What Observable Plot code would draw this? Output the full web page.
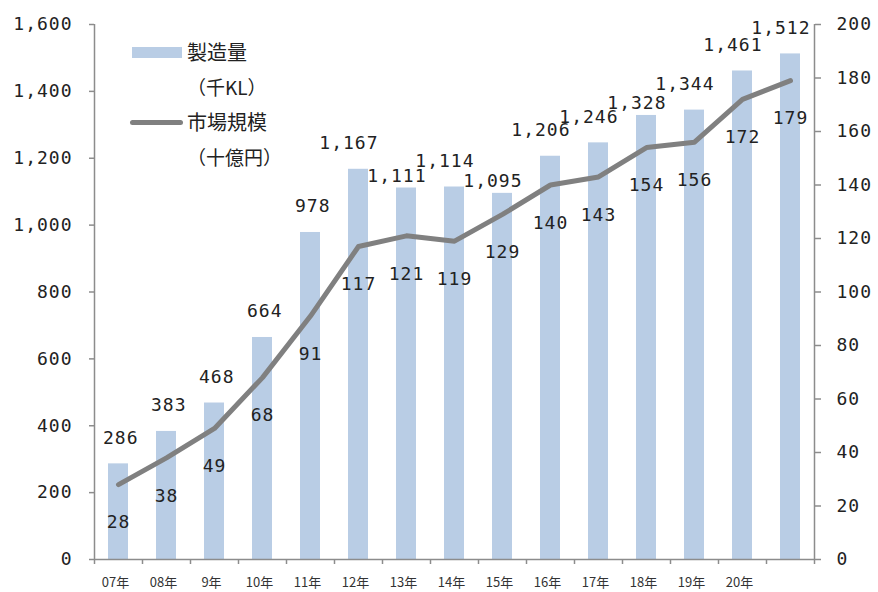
<!DOCTYPE html>
<html><head><meta charset="utf-8">
<script src="https://cdn.jsdelivr.net/npm/d3@7"></script>
<script src="https://cdn.jsdelivr.net/npm/@observablehq/plot@0.6"></script>
<style>
html,body{margin:0;padding:0;background:#fff;}
#wrap{position:relative;width:878px;height:592px;}
.num text, text.num{letter-spacing:1px;}
.lg{position:absolute;font-family:"Noto Sans CJK JP";font-size:20px;color:#222;line-height:1;white-space:nowrap;}
.sw{position:absolute;}
</style>
</head><body>
<div id="wrap"></div>
<script>
const categories = ["07年","08年","9年","10年","11年","12年","13年","14年","15年","16年","17年","18年","19年","20年",""];
const production = [286,383,468,664,978,1167,1111,1114,1095,1206,1246,1328,1344,1461,1512];
const market = [28,38,49,68,91,117,121,119,129,140,143,154,156,172,179];
const leftTicks = [0,200,400,600,800,1000,1200,1400,1600];
const rightTicks = [0,20,40,60,80,100,120,140,160,180,200];
const seriesNames = ["製造量","（千KL）","市場規模","（十億円）"];

const ratio = 1600 / 200;
const data = categories.map((c, i) => ({c, i, production: production[i], market: market[i]}));
// labels that would collide with a slightly taller neighbour's label sit closer to their bar
data.forEach((d, i) => {
  const nb = [data[i - 1], data[i + 1]].filter(Boolean);
  d.crowded = nb.some(n => n.production > d.production && n.production - d.production < 30);
});
const fmt = d3.format(",");
const numFont = "DejaVu Sans Mono";
const barLabel = {x: d => d.i + 0.5, y: "production", text: d => fmt(d.production), dx: 20, textAnchor: "end", fontSize: 18, fill: "#222", fontFamily: numFont, className: "num"};

const chart = Plot.plot({
  width: 878, height: 592,
  marginTop: 24, marginBottom: 33, marginLeft: 94, marginRight: 64,
  x: {domain: [0, categories.length], axis: null},
  y: {domain: [0, 1600], axis: null},
  style: {background: "#fff", fontFamily: numFont, color: "#222"},
  marks: [
    Plot.rectY(data, {x1: d => d.i, x2: d => d.i + 1, y: "production", fill: "#b9cde5", insetLeft: 14, insetRight: 14}),
    Plot.line(data, {x: d => d.i + 0.5, y: d => d.market * ratio, stroke: "#808080", strokeWidth: 5, strokeLinejoin: "round", strokeLinecap: "round"}),
    Plot.text(data.filter(d => !d.crowded), {...barLabel, dy: -26}),
    Plot.text(data.filter(d => d.crowded), {...barLabel, dy: -12}),
    Plot.text(data, {x: d => d.i + 0.5, y: d => d.market * ratio, text: d => String(d.market), dy: 38, fontSize: 18, fill: "#222", fontFamily: numFont, className: "num"}),
    Plot.ruleY([0], {stroke: "#8c8c8c", strokeWidth: 1.5}),
    Plot.ruleX([0, categories.length], {stroke: "#8c8c8c", strokeWidth: 1.5}),
    Plot.axisY(leftTicks, {anchor: "left", label: null, tickSize: 5, tickPadding: 17, tickFormat: fmt, fontSize: 18, fill: "#222", stroke: "#8c8c8c", strokeWidth: 1.5, fontFamily: numFont, className: "num"}),
    Plot.axisY(rightTicks.map(v => v * ratio), {anchor: "right", label: null, tickSize: 6, tickPadding: 16, tickFormat: v => String(v / ratio), fontSize: 18, fill: "#222", stroke: "#8c8c8c", strokeWidth: 1.5, fontFamily: numFont, className: "num"}),
    Plot.axisX(d3.range(categories.length + 1), {label: null, tickSize: 5, tickFormat: () => "", stroke: "#8c8c8c", strokeWidth: 1.5}),
    Plot.text(data, {x: d => d.i + 0.5, y: 0, text: "c", dy: 23, dx: -3, fontSize: 13, fill: "#333", fontFamily: "Noto Sans CJK JP"})
  ]
});

const wrap = document.getElementById("wrap");
wrap.appendChild(chart);

function addDiv(cls, style, text) {
  const d = document.createElement("div");
  d.className = cls;
  Object.assign(d.style, style);
  if (text) d.textContent = text;
  wrap.appendChild(d);
}
addDiv("sw", {left: "132px", top: "47px", width: "50px", height: "11px", background: "#b9cde5"});
addDiv("lg", {left: "187px", top: "42px"}, seriesNames[0]);
addDiv("lg", {left: "187px", top: "77px", fontSize: "19px"}, seriesNames[1]);
addDiv("sw", {left: "130px", top: "120px", width: "53px", height: "5px", background: "#808080", borderRadius: "3px"});
addDiv("lg", {left: "187px", top: "112px"}, seriesNames[2]);
addDiv("lg", {left: "187px", top: "147px", fontSize: "19px"}, seriesNames[3]);
</script>
</body></html>
